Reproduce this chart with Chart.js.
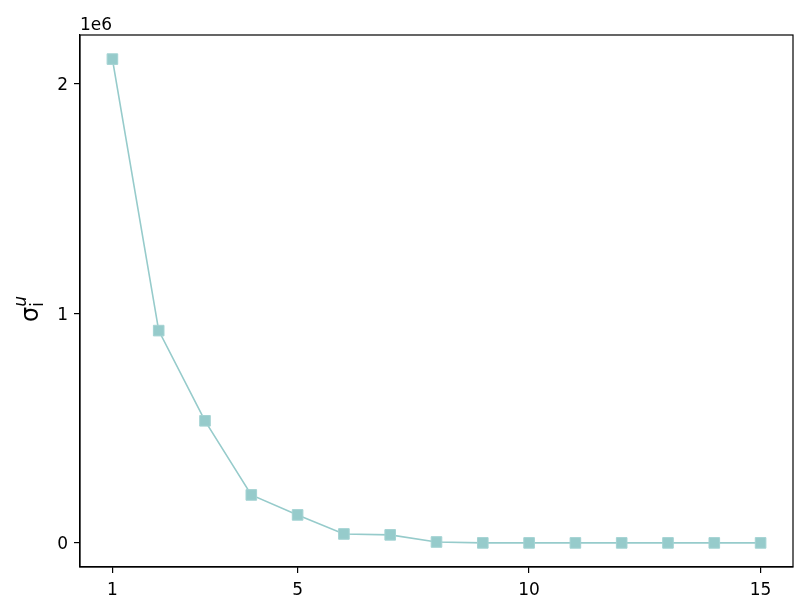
<!DOCTYPE html>
<html>
<head>
<meta charset="utf-8">
<script src="https://cdn.jsdelivr.net/npm/chart.js@4"></script>
<style>
  html, body { margin: 0; padding: 0; background: #fff; }
  #wrap { width: 807px; height: 615px; }
</style>
</head>
<body>
<div id="wrap"><canvas id="c" width="807" height="615"></canvas></div>
<script>
// data
const indices = [1, 2, 3, 4, 5, 6, 7, 8, 9, 10, 11, 12, 13, 14, 15];
const sigmaValues = [2108000, 925000, 532000, 209000, 122000, 39000, 35000, 4000, 0, 0, 0, 0, 0, 0, 0];
const xTickValues = [1, 5, 10, 15];
const yTickValues = [0, 1000000, 2000000];

const lineColor = '#96cbcb';
const fontFamily = "'DejaVu Sans', sans-serif";

// frame on all four sides + offset text + y title
const framePlugin = {
  id: 'frame',
  afterDraw(chart) {
    const { ctx, chartArea: a } = chart;
    ctx.save();
    ctx.strokeStyle = '#000';
    ctx.lineWidth = 1.2;
    ctx.strokeRect(a.left, a.top, a.right - a.left, a.bottom - a.top);

    ctx.fillStyle = '#000';
    ctx.font = '17px ' + fontFamily;
    ctx.textAlign = 'left';
    ctx.textBaseline = 'alphabetic';
    ctx.fillText('1e6', a.left, a.top - 5);

    // y-axis title: sigma_i^u, rotated
    ctx.translate(38, (a.top + a.bottom) / 2);
    ctx.rotate(-Math.PI / 2);
    ctx.font = '24px ' + fontFamily;
    ctx.fillText('σ', -21, 0);
    const w = ctx.measureText('σ').width;
    ctx.font = 'italic 17px ' + fontFamily;
    ctx.fillText('u', -21 + w, -12);
    ctx.font = '17px ' + fontFamily;
    ctx.fillText('i', -21 + w, 5);
    ctx.restore();
  }
};

new Chart(document.getElementById('c'), {
  type: 'line',
  data: {
    datasets: [{
      data: indices.map((x, i) => ({ x, y: sigmaValues[i] })),
      borderColor: lineColor,
      borderWidth: 1.6,
      pointStyle: 'rect',
      pointRadius: 7.5,
      pointBackgroundColor: lineColor,
      pointBorderColor: '#a4d3d3',
      pointBorderWidth: 1,
      tension: 0
    }]
  },
  options: {
    responsive: false,
    animation: false,
    layout: { padding: { left: 0, right: 14, top: 35, bottom: 0 } },
    plugins: { legend: { display: false }, tooltip: { enabled: false } },
    scales: {
      x: {
        type: 'linear',
        min: 0.3,
        max: 15.7,
        afterBuildTicks: s => { s.ticks = xTickValues.map(v => ({ value: v })); },
        afterFit: s => { s.height = 48; },
        grid: { display: true, drawOnChartArea: false, drawTicks: true, tickLength: 6, color: '#000', lineWidth: 1.2 },
        border: { display: true, color: '#000', width: 1.2 },
        ticks: { color: '#000', font: { family: fontFamily, size: 17 }, padding: 7, maxRotation: 0 }
      },
      y: {
        type: 'linear',
        min: -105000,
        max: 2213000,
        afterBuildTicks: s => { s.ticks = yTickValues.map(v => ({ value: v })); },
        afterFit: s => { s.width = 80; },
        grid: { display: true, drawOnChartArea: false, drawTicks: true, tickLength: 6, color: '#000', lineWidth: 1.2 },
        border: { display: true, color: '#000', width: 1.2 },
        ticks: {
          color: '#000',
          font: { family: fontFamily, size: 17 },
          padding: 6,
          labelOffset: 2,
          callback: v => String(v / 1000000)
        }
      }
    }
  },
  plugins: [framePlugin]
});
</script>
</body>
</html>
